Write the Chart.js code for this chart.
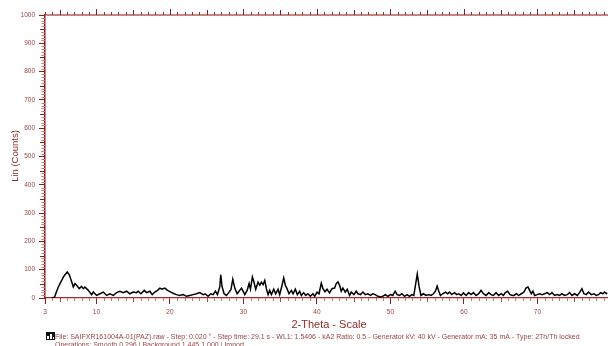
<!DOCTYPE html>
<html>
<head>
<meta charset="utf-8">
<script src="https://cdn.jsdelivr.net/npm/chart.js@4/dist/chart.umd.min.js"></script>
<style>
  html, body { margin: 0; padding: 0; background: #fff; overflow: hidden; }
  canvas { display: block; }
</style>
</head>
<body>
<canvas id="c" width="608" height="346"></canvas>
<script>
// Diffractogram: 2-theta (degrees) against intensity (counts)
const twoTheta = [
  3.9, 4.3, 4.5, 4.81, 5.04, 5.27, 5.49, 5.72, 6.03, 6.31, 6.49, 6.71, 6.85, 7.08, 7.30, 7.66, 7.98, 8.21, 8.43, 8.89,
  9.34, 9.57, 10.02, 10.47, 10.93, 11.38, 11.83, 12.29, 12.74, 13.19, 13.64, 14.10, 14.55, 15.00, 15.46, 15.68, 16.05, 16.50, 16.82, 17.27,
  17.59, 17.95, 18.31, 18.63, 18.94, 19.31, 19.67, 20.12, 20.57, 20.89, 21.34, 21.80, 22.25, 22.70, 23.16, 23.61, 24.06, 24.51, 24.83, 25.19,
  25.56, 25.87, 26.19, 26.46, 26.78, 26.91, 27.10, 27.37, 27.68, 28.00, 28.30, 28.55, 28.82, 29.14, 29.50, 29.73, 29.95, 30.18, 30.50, 30.77,
  30.95, 31.22, 31.40, 31.67, 31.99, 32.22, 32.44, 32.67, 32.90, 33.12, 33.35, 33.57, 33.80, 34.12, 34.39, 34.71, 34.93, 35.25, 35.48, 35.70,
  35.93, 36.20, 36.52, 36.75, 37.06, 37.33, 37.65, 37.88, 38.19, 38.47, 38.78, 39.10, 39.46, 39.69, 40.01, 40.28, 40.59, 40.82, 41.09, 41.37,
  41.72, 42.04, 42.40, 42.63, 42.85, 43.08, 43.30, 43.53, 43.85, 44.12, 44.44, 44.66, 45.03, 45.34, 45.57, 45.93, 46.25, 46.57, 46.93, 47.29,
  47.61, 47.92, 48.29, 48.65, 48.97, 49.28, 49.65, 50.01, 50.32, 50.64, 50.91, 51.23, 51.55, 51.91, 52.27, 52.59, 52.91, 53.18, 53.40, 53.65,
  53.90, 54.15, 54.49, 54.86, 55.22, 55.54, 55.85, 56.12, 56.35, 56.58, 56.80, 57.12, 57.48, 57.80, 58.03, 58.34, 58.71, 59.02, 59.29, 59.61,
  59.93, 60.29, 60.65, 60.97, 61.29, 61.65, 62.01, 62.33, 62.65, 63.01, 63.37, 63.69, 64.00, 64.37, 64.73, 65.05, 65.36, 65.64, 65.95, 66.27,
  66.63, 66.81, 67.13, 67.45, 67.81, 68.17, 68.44, 68.71, 68.94, 69.17, 69.39, 69.62, 69.98, 70.30, 70.62, 70.98, 71.34, 71.66, 71.98, 72.34,
  72.70, 73.02, 73.33, 73.70, 74.06, 74.38, 74.69, 75.06, 75.42, 75.73, 76.05, 76.32, 76.64, 76.96, 77.32, 77.68, 78.00, 78.32, 78.59, 78.90,
  79.13, 79.36, 79.49
];
const counts = [
  0, 3, 18, 39, 51, 62, 74, 82, 92, 82, 68, 51, 39, 51, 45, 33, 41, 33, 39, 27,
  12, 21, 9, 15, 21, 9, 15, 9, 19, 24, 19, 24, 15, 21, 19, 24, 15, 27, 19, 24,
  12, 21, 27, 35, 31, 35, 27, 21, 15, 12, 9, 12, 6, 9, 12, 15, 19, 12, 14, 6,
  15, 12, 24, 12, 39, 82, 39, 15, 9, 19, 30, 66, 35, 15, 27, 35, 24, 12, 27, 51,
  31, 74, 59, 31, 56, 45, 56, 47, 62, 33, 12, 27, 12, 31, 15, 31, 12, 45, 71, 45,
  33, 15, 27, 15, 31, 12, 24, 9, 19, 9, 15, 6, 15, 6, 21, 15, 52, 33, 22, 31,
  18, 33, 35, 51, 57, 45, 24, 35, 21, 31, 9, 21, 12, 24, 15, 12, 21, 12, 15, 9,
  15, 12, 6, 4, 6, 12, 6, 12, 9, 24, 12, 9, 15, 6, 12, 6, 12, 9, 45, 85,
  40, 9, 15, 9, 12, 9, 15, 24, 42, 24, 9, 15, 21, 15, 21, 12, 19, 12, 15, 9,
  18, 9, 19, 12, 19, 9, 15, 27, 15, 9, 19, 12, 9, 19, 9, 15, 9, 19, 24, 12,
  9, 9, 15, 9, 15, 21, 35, 39, 27, 15, 24, 9, 12, 15, 12, 15, 19, 12, 19, 9,
  12, 9, 15, 9, 12, 19, 9, 15, 9, 19, 33, 15, 12, 21, 12, 15, 9, 12, 19, 15,
  21, 15, 19
];

// Axis ranges and labelled tick values
const xRange = [3, 79.6];
const yRange = [0, 1000];
const xLabelTicks = [3, 10, 20, 30, 40, 50, 60, 70];
const yLabelTicks = [0, 100, 200, 300, 400, 500, 600, 700, 800, 900, 1000];

const xTitle = '2-Theta - Scale';
const yTitle = 'Lin (Counts)';
const footerLines = [
  'File: SAIFXR161004A-01(PAZ).raw - Step: 0.020 \u00b0 - Step time: 29.1 s - WL1: 1.5406 - kA2 Ratio: 0.5 - Generator kV: 40 kV - Generator mA: 35 mA - Type: 2Th/Th locked',
  'Operations: Smooth 0.296 | Background 1.445,1.000 | Import'
];

const AXIS_DARK = '#8e1b1b';
const AXIS_LIGHT = '#c07a7a';
const LABEL = '#9c4444';
const TITLE = '#8f2a2a';

// Minor ticks, top frame, titles and footer, all placed with the chart's scales
const frame = {
  id: 'frame',
  afterDraw(chart) {
    const { ctx, chartArea: a, scales } = chart;
    const x = scales.x, y = scales.y;
    ctx.save();

    // top axis line with degree ticks pointing up
    ctx.strokeStyle = '#c58686';
    ctx.lineWidth = 2;
    ctx.beginPath();
    ctx.moveTo(a.left, a.top);
    ctx.lineTo(a.right, a.top);
    ctx.stroke();
    ctx.lineWidth = 1;
    for (let d = Math.ceil(xRange[0]); d <= xRange[1]; d++) {
      const px = Math.round(x.getPixelForValue(d)) + 0.5;
      const len = d % 10 === 0 ? 6 : (d % 5 === 0 ? 5 : 3);
      ctx.strokeStyle = d % 5 === 0 ? AXIS_DARK : '#9a3030';
      ctx.beginPath();
      ctx.moveTo(px, a.top);
      ctx.lineTo(px, a.top - len);
      ctx.stroke();
    }

    // bottom minor ticks at every degree
    for (let d = Math.ceil(xRange[0]) + 1; d <= xRange[1]; d++) {
      if (d % 10 === 0) continue;
      const px = Math.round(x.getPixelForValue(d)) + 0.5;
      ctx.strokeStyle = d % 5 === 0 ? '#a84545' : AXIS_LIGHT;
      ctx.beginPath();
      ctx.moveTo(px, a.bottom);
      ctx.lineTo(px, a.bottom + (d % 5 === 0 ? 4 : 3));
      ctx.stroke();
    }

    // left minor ticks every 10 counts
    for (let v = yRange[0] + 10; v < yRange[1]; v += 10) {
      if (v % 100 === 0) continue;
      const py = Math.round(y.getPixelForValue(v)) + 0.5;
      const mid = v % 50 === 0;
      ctx.strokeStyle = mid ? AXIS_DARK : AXIS_LIGHT;
      ctx.beginPath();
      ctx.moveTo(a.left, py);
      ctx.lineTo(a.left - (mid ? 5 : 3.5), py);
      ctx.stroke();
    }

    // axis titles
    ctx.fillStyle = TITLE;
    ctx.textAlign = 'center';
    ctx.textBaseline = 'middle';
    ctx.font = '11px "Liberation Sans", Arial, sans-serif';
    ctx.fillText(xTitle, 329, 325);
    ctx.save();
    ctx.translate(15, 156);
    ctx.rotate(-Math.PI / 2);
    ctx.font = '9.5px "Liberation Sans", Arial, sans-serif';
    ctx.fillText(yTitle, 0, 0);
    ctx.restore();

    // footer badge
    ctx.fillStyle = '#111';
    ctx.fillRect(46, 332, 9, 8);
    ctx.fillStyle = '#fff';
    ctx.fillRect(47, 336, 2, 3);
    ctx.fillRect(50, 334, 2, 5);
    ctx.fillRect(53, 337, 1, 2);

    // footer text
    ctx.fillStyle = '#9a4545';
    ctx.textAlign = 'left';
    ctx.textBaseline = 'alphabetic';
    ctx.font = '7px "Liberation Sans", Arial, sans-serif';
    ctx.fillText(footerLines[0], 55, 338.5, 530);
    ctx.fillText(footerLines[1], 55, 346.5, 190);

    ctx.restore();
  }
};

new Chart(document.getElementById('c'), {
  type: 'line',
  data: {
    datasets: [{
      data: twoTheta.map((t, i) => ({ x: t, y: counts[i] })),
      borderColor: '#000',
      borderWidth: 1.5,
      pointRadius: 0,
      tension: 0,
      fill: false
    }]
  },
  options: {
    responsive: false,
    devicePixelRatio: 1,
    animation: false,
    events: [],
    layout: { padding: { top: 15, right: 0, left: 0, bottom: 0 } },
    plugins: { legend: { display: false }, tooltip: { enabled: false }, title: { display: false } },
    scales: {
      x: {
        type: 'linear',
        min: xRange[0],
        max: xRange[1],
        afterBuildTicks: s => { s.ticks = xLabelTicks.map(v => ({ value: v })); },
        afterFit: s => { s.height = 48; },
        ticks: {
          autoSkip: false,
          maxRotation: 0,
          padding: 4,
          color: LABEL,
          font: { family: '"Liberation Sans", Arial, sans-serif', size: 6.5 },
          callback: v => String(v)
        },
        grid: { drawOnChartArea: false, tickLength: 6, color: AXIS_DARK, lineWidth: 1 },
        border: { color: '#a82a2a', width: 1.2 }
      },
      y: {
        type: 'linear',
        min: yRange[0],
        max: yRange[1],
        afterBuildTicks: s => { s.ticks = yLabelTicks.map(v => ({ value: v })); },
        afterFit: s => { s.width = 45; },
        ticks: {
          padding: 4,
          color: LABEL,
          font: { family: '"Liberation Sans", Arial, sans-serif', size: 6.5 },
          callback: v => String(v)
        },
        grid: { drawOnChartArea: false, tickLength: 6, color: AXIS_DARK, lineWidth: 1 },
        border: { color: AXIS_DARK, width: 1.5 }
      }
    }
  },
  plugins: [frame]
});
</script>
</body>
</html>
